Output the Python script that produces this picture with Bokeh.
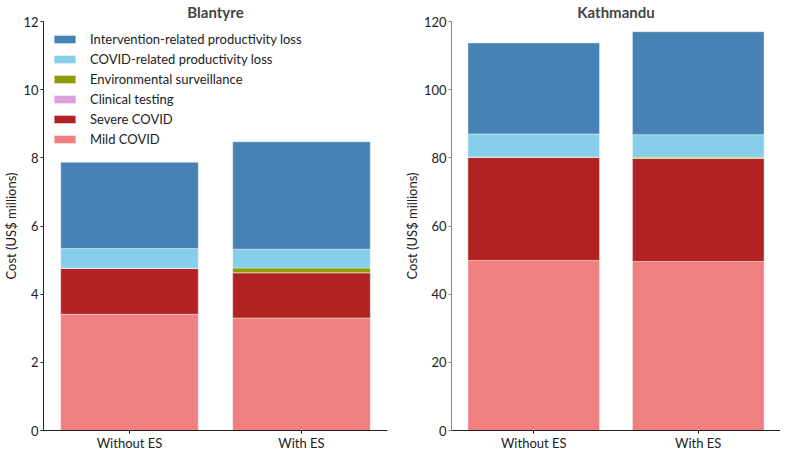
from bokeh.plotting import figure
from bokeh.models import ColumnDataSource, Range1d, FixedTicker, Legend, LegendItem
from bokeh.layouts import row
from bokeh.embed import file_html
from bokeh.resources import INLINE

scenarios = ["Without ES", "With ES"]
components = ["mild", "severe", "clinical", "env", "covid_prod", "interv_prod"]
labels = ["Mild COVID", "Severe COVID", "Clinical testing", "Environmental surveillance",
          "COVID-related productivity loss", "Intervention-related productivity loss"]
colors = ["#F08080", "#B22222", "#DDA0DD", "#8E9C0A", "#87CEEB", "#4682B4"]

# Blantyre, US$ millions
blantyre_mild = [3.41, 3.30]
blantyre_severe = [1.35, 1.33]
blantyre_clinical = [0.0, 0.0]
blantyre_env = [0.0, 0.14]
blantyre_covid_prod = [0.58, 0.55]
blantyre_interv_prod = [2.53, 3.15]

# Kathmandu, US$ millions
kathmandu_mild = [49.9, 49.6]
kathmandu_severe = [30.3, 30.2]
kathmandu_clinical = [0.0, 0.0]
kathmandu_env = [0.0, 0.4]
kathmandu_covid_prod = [6.8, 6.6]
kathmandu_interv_prod = [26.7, 30.2]

blantyre_ticks = [0, 2, 4, 6, 8, 10, 12]
kathmandu_ticks = [0, 20, 40, 60, 80, 100, 120]

FONT = "Lato"


def make_panel(title, data, y_max, ticks, width, border_left, border_right, y_axis_color, show_legend):
    source = ColumnDataSource(dict(scenario=scenarios, **data))
    p = figure(x_range=scenarios, y_range=Range1d(0, y_max),
               width=width, height=453, output_backend="svg",
               toolbar_location=None, tools="", title=title,
               min_border_left=border_left, min_border_right=border_right,
               min_border_top=2, min_border_bottom=0)

    renderers = p.vbar_stack(components, x='scenario', width=0.8, source=source,
                             fill_color=colors, line_color="white", line_alpha=0.4,
                             line_width=1)

    p.title.align = "center"
    p.title.text_font = FONT
    p.title.text_font_style = "bold"
    p.title.text_font_size = "15px"
    p.title.standoff = 1

    p.xgrid.grid_line_color = None
    p.ygrid.grid_line_color = None
    p.outline_line_color = None

    p.yaxis.ticker = FixedTicker(ticks=ticks)
    p.yaxis.axis_label = "Cost (US$ millions)"
    p.yaxis.axis_line_color = y_axis_color
    p.yaxis.major_tick_line_color = y_axis_color
    p.xaxis.axis_line_color = "#222222"
    p.xaxis.axis_label = None

    for ax in [p.xaxis[0], p.yaxis[0]]:
        ax.major_label_text_font = FONT
        ax.major_label_text_font_size = "13px"
        ax.major_label_text_color = "#222222"
        ax.axis_label_text_font = FONT
        ax.axis_label_text_font_size = "13px"
        ax.axis_label_text_font_style = "normal"
        ax.axis_label_text_color = "#222222"
        ax.axis_label_standoff = 1
        ax.major_label_standoff = 2
        ax.major_tick_out = 3
        ax.major_tick_in = 0
        ax.minor_tick_out = 0
        ax.minor_tick_in = 0
    p.xaxis.axis_label_standoff = 0
    p.xaxis.major_label_standoff = 1

    if show_legend:
        items = [LegendItem(label=lab, renderers=[r]) for lab, r in zip(labels, renderers)]
        legend = Legend(items=list(reversed(items)), location="top_left")
        legend.border_line_color = None
        legend.background_fill_alpha = 0
        legend.label_text_font = FONT
        legend.label_text_font_size = "13px"
        legend.label_text_color = "#222222"
        legend.glyph_width = 27
        legend.glyph_height = 10
        legend.label_height = 20
        legend.label_standoff = 12
        legend.spacing = 0
        legend.margin = 8
        legend.padding = 9
        p.add_layout(legend)

    return p


blantyre = dict(mild=blantyre_mild, severe=blantyre_severe, clinical=blantyre_clinical,
                env=blantyre_env, covid_prod=blantyre_covid_prod, interv_prod=blantyre_interv_prod)
kathmandu = dict(mild=kathmandu_mild, severe=kathmandu_severe, clinical=kathmandu_clinical,
                 env=kathmandu_env, covid_prod=kathmandu_covid_prod, interv_prod=kathmandu_interv_prod)

p1 = make_panel("Blantyre", blantyre, 12, blantyre_ticks, 400, 30, 13, "#222222", True)
p2 = make_panel("Kathmandu", kathmandu, 120, kathmandu_ticks, 380, 49, 0, "#888888", False)

layout = row(p1, p2)
open("out.html", "w").write(file_html(layout, INLINE))
